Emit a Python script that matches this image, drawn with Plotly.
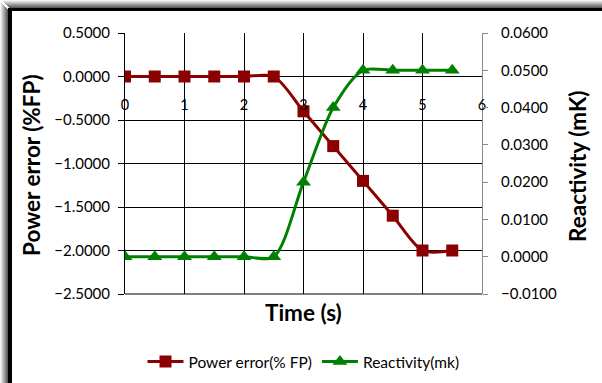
import plotly.graph_objects as go

# Time samples (s)
time_s = [0, 0.5, 1, 1.5, 2, 2.5, 3, 3.5, 4, 4.5, 5, 5.5]
# Power error (%FP)
power_error = [0, 0, 0, 0, 0, 0, -0.4, -0.8, -1.2, -1.6, -2.0, -2.0]
# Reactivity (mK)
reactivity = [0, 0, 0, 0, 0, 0, 0.02, 0.04, 0.05, 0.05, 0.05, 0.05]

x_ticks = [0, 1, 2, 3, 4, 5, 6]

W, H = 602, 383
ML, MR, MT, MB = 125, 120, 33, 89
PW, PH = W - ML - MR, H - MT - MB


def px(x):
    return (x - ML) / PW


def py(y):
    return (H - MB - y) / PH


FONT = "Lato"
RED = "#8b0000"
GREEN = "#008000"

fig = go.Figure()
fig.add_trace(go.Scatter(
    x=time_s, y=power_error, name="Power error(% FP)",
    mode="lines+markers",
    line=dict(color=RED, width=3, shape="spline", smoothing=0.8),
    marker=dict(symbol="square", size=12, color=RED),
    yaxis="y",
))
fig.add_trace(go.Scatter(
    x=time_s, y=reactivity, name="Reactivity(mk)",
    mode="lines+markers",
    line=dict(color=GREEN, width=3, shape="spline", smoothing=0.8),
    marker=dict(symbol="triangle-up", size=13, color=GREEN),
    yaxis="y2",
))

# Frame with a soft drop shadow along the top and left edges
shapes = []
for i in range(8):
    g = int(245 - i * 22)
    col = f"rgb({g},{g},{g})"
    shapes.append(dict(type="rect", xref="paper", yref="paper",
                       x0=px(i), x1=px(i + 1), y0=py(H), y1=py(i + 2),
                       fillcolor=col, line_width=0, layer="above"))
    shapes.append(dict(type="rect", xref="paper", yref="paper",
                       x0=px(i + 2), x1=px(W), y0=py(i + 1), y1=py(i),
                       fillcolor=col, line_width=0, layer="above"))
shapes.append(dict(type="rect", xref="paper", yref="paper",
                   x0=px(8), x1=px(12), y0=py(H), y1=py(8),
                   fillcolor="black", line_width=0, layer="above"))
shapes.append(dict(type="rect", xref="paper", yref="paper",
                   x0=px(8), x1=px(W), y0=py(11), y1=py(8),
                   fillcolor="black", line_width=0, layer="above"))
# bottom border of the plot area
shapes.append(dict(type="line", xref="paper", yref="paper",
                   x0=0, x1=1, y0=0, y1=0,
                   line=dict(color="black", width=1), layer="above"))

fig.update_layout(
    width=W, height=H,
    margin=dict(l=ML, r=MR, t=MT, b=MB, autoexpand=False),
    paper_bgcolor="white", plot_bgcolor="white",
    font=dict(family=FONT, size=14, color="black"),
    showlegend=True,
    legend=dict(orientation="h", x=0.5, xanchor="center",
                y=py(362), yanchor="middle",
                font=dict(family=FONT, size=15.5, color="black"),
                itemwidth=36, traceorder="normal"),
    xaxis=dict(
        range=[0, 6], tickvals=x_ticks, ticktext=[str(v) for v in x_ticks],
        showgrid=True, gridcolor="black", gridwidth=1,
        anchor="free", position=py(76.5), side="bottom",
        showline=False, zeroline=False, ticks="",
        ticklabelstandoff=18,
        tickfont=dict(family=FONT, size=14.5, color="black"),
    ),
    yaxis=dict(
        range=[-2.5, 0.5], dtick=0.5, tick0=0, tickformat=".4f",
        showgrid=True, gridcolor="black", gridwidth=1,
        showline=True, linecolor="black", linewidth=1,
        ticks="outside", ticklen=6, tickcolor="black",
        zeroline=False, ticklabelstandoff=5,
        tickfont=dict(family=FONT, size=15, color="black"),
    ),
    yaxis2=dict(
        range=[-0.01, 0.06], dtick=0.01, tick0=0, tickformat=".4f",
        overlaying="y", side="right", showgrid=False,
        showline=True, linecolor="#888888", linewidth=1,
        ticks="outside", ticklen=5, tickcolor="#888888",
        zeroline=False, ticklabelstandoff=10,
        tickfont=dict(family=FONT, size=15, color="black"),
    ),
    shapes=shapes,
    annotations=[
        dict(text="<b>Power error (%FP)</b>", xref="paper", yref="paper",
             x=px(31), y=py(165), xanchor="center", yanchor="middle",
             textangle=-90, showarrow=False,
             font=dict(family=FONT, size=22.5, color="black")),
        dict(text="<b>Reactivity (mK)</b>", xref="paper", yref="paper",
             x=px(577), y=py(166), xanchor="center", yanchor="middle",
             textangle=-90, showarrow=False,
             font=dict(family=FONT, size=22.5, color="black")),
        dict(text="<b>Time (s)</b>", xref="paper", yref="paper",
             x=px(303), y=py(312), xanchor="center", yanchor="middle",
             showarrow=False,
             font=dict(family=FONT, size=22.5, color="black")),
    ],
)

fig.write_html("out.html")
